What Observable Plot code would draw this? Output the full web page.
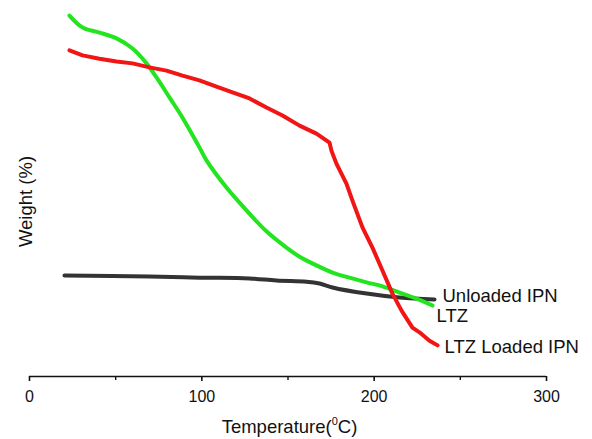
<!DOCTYPE html>
<html>
<head>
<meta charset="utf-8">
<script src="https://cdn.jsdelivr.net/npm/d3@7"></script>
<script src="https://cdn.jsdelivr.net/npm/@observablehq/plot@0.6"></script>
<style>
  body { margin: 0; background: #fff; }
  #chart svg { display: block; }
</style>
</head>
<body>
<div id="chart"></div>
<script>
// Series: LTZ (green)
const ltzTemp = [23.2, 30.8, 40.6, 50.5, 59.8, 67.9, 73.7, 81.2, 88.8, 98.6, 102.7, 114.3, 125.9, 137.5, 149.1, 156.7, 166.5, 175.8, 185.7, 195.6, 204.8, 214.7, 224.6, 233.9];
const ltzWeight = [99.7, 96.4, 95.0, 93.4, 90.6, 86.5, 82.6, 77.1, 71.5, 63.3, 59.7, 52.2, 45.9, 40.1, 35.6, 33.1, 30.7, 28.7, 27.3, 26.0, 24.9, 23.2, 21.5, 19.6];

// Series: LTZ Loaded IPN (red)
const loadedTemp = [23.2, 30.8, 40.6, 50.5, 59.8, 69.6, 79.5, 88.8, 98.6, 108.5, 117.8, 127.7, 137.5, 146.8, 156.7, 166.5, 174.1, 175.2, 178.1, 183.9, 187.4, 193.2, 199.0, 204.8, 210.6, 215.9, 222.2, 226.3, 232.1, 236.8];
const loadedWeight = [90.1, 88.7, 87.8, 87.0, 86.5, 85.4, 84.5, 83.1, 81.8, 80.1, 78.5, 76.8, 74.3, 72.1, 69.3, 67.1, 64.6, 62.4, 58.8, 53.3, 48.6, 41.2, 35.6, 29.3, 22.9, 18.2, 13.5, 12.2, 9.9, 8.6];

// Series: Unloaded IPN (black)
const unloadedTemp = [20.3, 69.6, 98.6, 127.7, 143.3, 160.7, 168.3, 175.8, 195.6, 214.7, 235.0];
const unloadedWeight = [27.9, 27.6, 27.3, 27.1, 26.5, 26.2, 25.7, 24.6, 22.9, 21.8, 21.3];

const seriesNames = ["Unloaded IPN", "LTZ", "LTZ Loaded IPN"];
const xTicks = [0, 100, 200, 300];
const xMinorTicks = [50, 150, 250];

const toRows = (t, w, s) => t.map((v, i) => ({temp: v, weight: w[i], series: s}));
const unloaded = toRows(unloadedTemp, unloadedWeight, seriesNames[0]);
const ltz = toRows(ltzTemp, ltzWeight, seriesNames[1]);
const loaded = toRows(loadedTemp, loadedWeight, seriesNames[2]);

const font = "'Liberation Sans', Arial, sans-serif";
const W = 592, H = 439;

const chart = Plot.plot({
  width: W,
  height: H,
  marginLeft: 29,
  marginRight: 46,
  marginTop: 14,
  marginBottom: 63,
  style: {fontFamily: font, fontSize: "16px", color: "#111", background: "#fff"},
  x: {domain: [0, 300]},
  y: {domain: [0, 100], axis: null},
  marks: [
    Plot.ruleY([0], {stroke: "#111", strokeWidth: 1.6}),
    Plot.axisX({ticks: xTicks, tickSize: 5, tickPadding: 9, fontSize: 16, label: null, stroke: "#111", strokeWidth: 1.6}),
    Plot.axisX({ticks: xMinorTicks, tickSize: 4, text: null, label: null, stroke: "#111", strokeWidth: 1.4}),
    Plot.line(unloaded, {x: "temp", y: "weight", stroke: "#333333", strokeWidth: 4, curve: "catmull-rom"}),
    Plot.line(ltz, {x: "temp", y: "weight", stroke: "#22e41f", strokeWidth: 4, curve: "catmull-rom"}),
    Plot.line(loaded, {x: "temp", y: "weight", stroke: "#f21515", strokeWidth: 4, curve: "linear"}),
    Plot.text([unloaded[unloaded.length - 1]], {x: "temp", y: "weight", text: "series", textAnchor: "start", dx: 8, dy: -3, fontSize: 18.5, fill: "#111"}),
    Plot.text([ltz[ltz.length - 1]], {x: "temp", y: "weight", text: "series", textAnchor: "start", dx: 4, dy: 11, fontSize: 18.5, fill: "#111"}),
    Plot.text([loaded[loaded.length - 1]], {x: "temp", y: "weight", text: "series", textAnchor: "start", dx: 7, dy: 2, fontSize: 18.5, fill: "#111"}),
    Plot.text(["Weight (%)"], {frameAnchor: "left", textAnchor: "middle", lineAnchor: "middle", rotate: -90, dx: -3, dy: 6, fontSize: 18.5, fill: "#111"})
  ]
});

// x-axis title with superscript degree mark
const xs = chart.scale("x");
const svg = d3.select(chart);
const title = svg.append("text")
  .attr("x", xs.apply(150) + 2)
  .attr("y", 433)
  .attr("text-anchor", "middle")
  .attr("font-family", font)
  .attr("font-size", 18.5)
  .attr("fill", "#111");
title.append("tspan").text("Temperature(");
title.append("tspan").attr("font-size", 11).attr("dy", -8).text("0");
title.append("tspan").attr("dy", 8).text("C)");

document.getElementById("chart").appendChild(chart);
</script>
</body>
</html>
